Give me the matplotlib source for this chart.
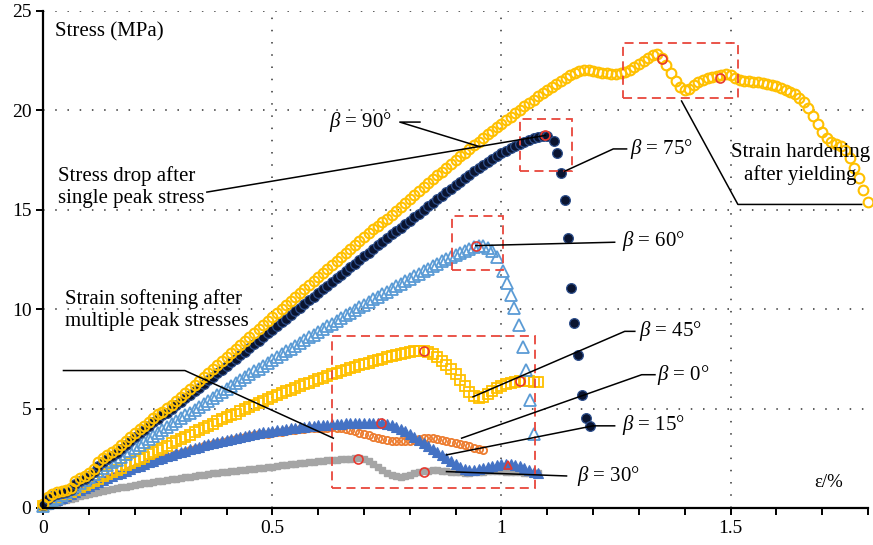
import matplotlib
matplotlib.use("Agg")
import matplotlib.pyplot as plt
from matplotlib.patches import Rectangle

plt.rcParams["font.family"] = ["Liberation Serif", "DejaVu Serif"]
plt.rcParams["mathtext.fontset"] = "custom"
plt.rcParams["mathtext.it"] = "Liberation Serif:italic"
plt.rcParams["mathtext.rm"] = "Liberation Serif"

# strain grid (%) shared by the dense parts of every curve
strain = [
    0.00, 0.01, 0.02, 0.03, 0.04, 0.05, 0.06, 0.07, 0.08, 0.09,
    0.10, 0.11, 0.12, 0.13, 0.14, 0.15, 0.16, 0.17, 0.18, 0.19,
    0.20, 0.21, 0.22, 0.23, 0.24, 0.25, 0.26, 0.27, 0.28, 0.29,
    0.30, 0.31, 0.32, 0.33, 0.34, 0.35, 0.36, 0.37, 0.38, 0.39,
    0.40, 0.41, 0.42, 0.43, 0.44, 0.45, 0.46, 0.47, 0.48, 0.49,
    0.50, 0.51, 0.52, 0.53, 0.54, 0.55, 0.56, 0.57, 0.58, 0.59,
    0.60, 0.61, 0.62, 0.63, 0.64, 0.65, 0.66, 0.67, 0.68, 0.69,
    0.70, 0.71, 0.72, 0.73, 0.74, 0.75, 0.76, 0.77, 0.78, 0.79,
    0.80, 0.81, 0.82, 0.83, 0.84, 0.85, 0.86, 0.87, 0.88, 0.89,
    0.90, 0.91, 0.92, 0.93, 0.94, 0.95, 0.96, 0.97, 0.98, 0.99,
    1.00, 1.01, 1.02, 1.03, 1.04, 1.05, 1.06, 1.07, 1.08, 1.09,
    1.10, 1.11, 1.12, 1.13, 1.14, 1.15, 1.16, 1.17, 1.18, 1.19,
    1.20, 1.21, 1.22, 1.23, 1.24, 1.25, 1.26, 1.27, 1.28, 1.29,
    1.30, 1.31, 1.32, 1.33, 1.34, 1.35, 1.36, 1.37, 1.38, 1.39,
    1.40, 1.41, 1.42, 1.43, 1.44, 1.45, 1.46, 1.47, 1.48, 1.49,
    1.50, 1.51, 1.52, 1.53, 1.54, 1.55, 1.56, 1.57, 1.58, 1.59,
    1.60, 1.61, 1.62, 1.63, 1.64, 1.65, 1.66, 1.67, 1.68, 1.69,
    1.70, 1.71, 1.72, 1.73, 1.74, 1.75, 1.76, 1.77, 1.78, 1.79,
    1.80,
]

# beta = 90 deg (stress, MPa)
s90 = [
    0.2, 0.55, 0.7, 0.8, 0.85, 0.9, 1.0, 1.35, 1.5, 1.6,
    1.75, 1.95, 2.3, 2.5, 2.65, 2.8, 2.95, 3.15, 3.35, 3.55,
    3.75, 3.95, 4.1, 4.3, 4.5, 4.7, 4.85, 5.05, 5.2, 5.4,
    5.6, 5.8, 6.0, 6.2, 6.4, 6.6, 6.8, 7.0, 7.2, 7.4,
    7.6, 7.8, 8.0, 8.2, 8.4, 8.6, 8.8, 9.0, 9.2, 9.4,
    9.6, 9.8, 10.0, 10.2, 10.4, 10.6, 10.8, 11.0, 11.2, 11.4,
    11.6, 11.8, 12.0, 12.2, 12.4, 12.6, 12.8, 13.0, 13.2, 13.4,
    13.6, 13.8, 14.0, 14.2, 14.4, 14.55, 14.75, 14.95, 15.15, 15.35,
    15.55, 15.75, 15.95, 16.15, 16.35, 16.55, 16.75, 16.9, 17.1, 17.3,
    17.5, 17.7, 17.85, 18.05, 18.25, 18.4, 18.6, 18.8, 18.95, 19.15,
    19.3, 19.5, 19.65, 19.85, 20.0, 20.2, 20.35, 20.5, 20.7, 20.85,
    21.0, 21.15, 21.3, 21.45, 21.6, 21.75, 21.85, 21.95, 22.0, 22.0,
    21.95, 21.9, 21.85, 21.85, 21.8, 21.8, 21.85, 21.9, 22.0, 22.15,
    22.3, 22.45, 22.6, 22.75, 22.8, 22.6, 22.25, 21.85, 21.45, 21.15,
    21.0, 21.05, 21.25, 21.4, 21.5, 21.6, 21.65, 21.7, 21.75, 21.8,
    21.75, 21.6, 21.5, 21.45, 21.45, 21.4, 21.4, 21.35, 21.3, 21.25,
    21.2, 21.1, 21.0, 20.9, 20.8, 20.6, 20.4, 20.1, 19.7, 19.3,
    18.9, 18.6, 18.4, 18.3, 18.2, 18.0, 17.6, 17.1, 16.6, 16.0,
    15.4,
]

# beta = 75 deg: dense rise then sparse drop
s75 = [
    0.15, 0.45, 0.6, 0.7, 0.75, 0.8, 0.9, 1.2, 1.35, 1.45,
    1.6, 1.8, 2.1, 2.3, 2.45, 2.6, 2.75, 2.95, 3.15, 3.35,
    3.55, 3.75, 3.9, 4.1, 4.3, 4.45, 4.65, 4.8, 5.0, 5.2,
    5.35, 5.55, 5.7, 5.9, 6.05, 6.25, 6.45, 6.6, 6.8, 6.95,
    7.15, 7.35, 7.5, 7.7, 7.85, 8.05, 8.25, 8.4, 8.6, 8.8,
    8.95, 9.15, 9.35, 9.5, 9.7, 9.9, 10.05, 10.25, 10.45, 10.6,
    10.8, 11.0, 11.15, 11.35, 11.55, 11.7, 11.9, 12.1, 12.25, 12.45,
    12.65, 12.8, 13.0, 13.2, 13.35, 13.55, 13.75, 13.9, 14.1, 14.3,
    14.45, 14.65, 14.8, 15.0, 15.2, 15.35, 15.55, 15.7, 15.9, 16.05,
    16.25, 16.4, 16.6, 16.75, 16.95, 17.1, 17.25, 17.4, 17.55, 17.7,
    17.85, 17.95, 18.1, 18.2, 18.3, 18.4, 18.5, 18.6, 18.65, 18.7,
]
x75_drop = [1.100, 1.114, 1.122, 1.129, 1.138, 1.146, 1.151, 1.159, 1.166, 1.176, 1.184, 1.193]
s75_drop = [18.7, 18.45, 17.86, 16.82, 15.46, 13.56, 11.04, 9.3, 7.7, 5.69, 4.52, 4.1]

# beta = 60 deg
s60 = [
    0.1, 0.25, 0.4, 0.5, 0.65, 0.8, 0.95, 1.1, 1.25, 1.4,
    1.55, 1.7, 1.85, 2.0, 2.15, 2.3, 2.4, 2.55, 2.7, 2.85,
    3.0, 3.15, 3.3, 3.45, 3.6, 3.75, 3.9, 4.05, 4.2, 4.35,
    4.5, 4.65, 4.8, 4.95, 5.1, 5.25, 5.4, 5.55, 5.7, 5.85,
    6.0, 6.15, 6.3, 6.45, 6.6, 6.75, 6.9, 7.0, 7.15, 7.3,
    7.45, 7.6, 7.75, 7.9, 8.0, 8.15, 8.3, 8.45, 8.6, 8.7,
    8.85, 9.0, 9.15, 9.25, 9.4, 9.55, 9.7, 9.8, 9.95, 10.1,
    10.2, 10.35, 10.5, 10.6, 10.75, 10.85, 11.0, 11.15, 11.25, 11.4,
    11.5, 11.65, 11.75, 11.9, 12.0, 12.15, 12.25, 12.4, 12.5, 12.6,
    12.7, 12.8, 12.9, 13.0, 13.1, 13.15, 13.15, 13.05, 12.9, 12.6,
]
x60_drop = [1.003, 1.011, 1.020, 1.028, 1.038, 1.047, 1.054, 1.062, 1.070]
s60_drop = [11.9, 11.3, 10.7, 10.05, 9.2, 8.1, 6.95, 5.45, 3.72]

# beta = 45 deg
s45 = [
    0.1, 0.25, 0.35, 0.5, 0.6, 0.7, 0.8, 0.9, 1.05, 1.15,
    1.25, 1.35, 1.45, 1.6, 1.7, 1.8, 1.9, 2.0, 2.15, 2.25,
    2.35, 2.45, 2.55, 2.7, 2.8, 2.9, 3.0, 3.1, 3.25, 3.35,
    3.45, 3.55, 3.65, 3.8, 3.9, 4.0, 4.1, 4.2, 4.35, 4.45,
    4.55, 4.65, 4.75, 4.9, 5.0, 5.1, 5.2, 5.3, 5.4, 5.5,
    5.6, 5.7, 5.8, 5.9, 5.95, 6.05, 6.15, 6.25, 6.3, 6.4,
    6.5, 6.55, 6.65, 6.75, 6.8, 6.9, 6.95, 7.05, 7.1, 7.2,
    7.25, 7.3, 7.4, 7.45, 7.5, 7.6, 7.65, 7.7, 7.75, 7.8,
    7.85, 7.9, 7.9, 7.9, 7.85, 7.75, 7.6, 7.4, 7.2, 7.0,
    6.75, 6.45, 6.15, 5.85, 5.65, 5.55, 5.6, 5.75, 5.9, 6.05,
    6.15, 6.25, 6.3, 6.35, 6.4, 6.4, 6.4, 6.35, 6.35,
]

# beta = 15 deg
s15 = [
    0.1, 0.2, 0.3, 0.4, 0.5, 0.6, 0.7, 0.8, 0.9, 1.0,
    1.1, 1.2, 1.3, 1.4, 1.5, 1.6, 1.7, 1.75, 1.85, 1.95,
    2.05, 2.1, 2.2, 2.3, 2.35, 2.45, 2.5, 2.6, 2.65, 2.75,
    2.8, 2.85, 2.95, 3.0, 3.05, 3.15, 3.2, 3.25, 3.3, 3.35,
    3.4, 3.45, 3.5, 3.55, 3.6, 3.65, 3.7, 3.75, 3.8, 3.8,
    3.85, 3.9, 3.9, 3.95, 4.0, 4.0, 4.05, 4.05, 4.1, 4.1,
    4.15, 4.15, 4.15, 4.2, 4.2, 4.2, 4.25, 4.25, 4.25, 4.25,
    4.25, 4.25, 4.25, 4.25, 4.25, 4.2, 4.15, 4.05, 3.95, 3.85,
    3.7, 3.55, 3.4, 3.25, 3.1, 2.95, 2.8, 2.65, 2.5, 2.35,
    2.2, 2.05, 1.95, 1.9, 1.9, 1.95, 2.0, 2.05, 2.1, 2.15,
    2.2, 2.2, 2.2, 2.15, 2.1, 2.0, 1.9, 1.8, 1.75,
]

# beta = 0 deg
s0 = [
    0.05, 0.15, 0.25, 0.35, 0.45, 0.55, 0.65, 0.75, 0.85, 0.95,
    1.05, 1.15, 1.25, 1.35, 1.45, 1.55, 1.65, 1.7, 1.8, 1.9,
    2.0, 2.05, 2.15, 2.25, 2.3, 2.4, 2.45, 2.55, 2.6, 2.7,
    2.75, 2.8, 2.9, 2.95, 3.0, 3.1, 3.15, 3.2, 3.25, 3.3,
    3.35, 3.4, 3.45, 3.5, 3.55, 3.6, 3.65, 3.7, 3.72, 3.72,
    3.77, 3.8, 3.82, 3.85, 3.9, 3.9, 3.95, 3.95, 4.0, 4.0,
    4.03, 4.03, 4.03, 4.05, 4.03, 4.0, 3.95, 3.9, 3.85, 3.78,
    3.72, 3.65, 3.58, 3.52, 3.47, 3.42, 3.38, 3.35, 3.35, 3.35,
    3.38, 3.4, 3.45, 3.5, 3.5, 3.5, 3.45, 3.4, 3.35, 3.3,
    3.25, 3.2, 3.15, 3.1, 3.0, 2.95, 2.9,
]

# beta = 30 deg
s30 = [
    0.05, 0.12, 0.19, 0.26, 0.33, 0.4, 0.46, 0.52, 0.58, 0.64,
    0.7, 0.75, 0.8, 0.85, 0.9, 0.95, 1.0, 1.04, 1.08, 1.12,
    1.16, 1.2, 1.24, 1.28, 1.32, 1.35, 1.38, 1.42, 1.45, 1.48,
    1.52, 1.55, 1.58, 1.62, 1.65, 1.68, 1.71, 1.74, 1.77, 1.8,
    1.83, 1.85, 1.88, 1.9, 1.93, 1.95, 1.98, 2.0, 2.03, 2.05,
    2.08, 2.11, 2.14, 2.17, 2.2, 2.23, 2.25, 2.28, 2.3, 2.32,
    2.35, 2.37, 2.39, 2.41, 2.43, 2.45, 2.47, 2.48, 2.5, 2.5,
    2.45, 2.35, 2.2, 2.05, 1.9, 1.75, 1.65, 1.6, 1.58, 1.6,
    1.68, 1.75, 1.8, 1.85, 1.88, 1.9, 1.9, 1.88, 1.85, 1.83,
    1.8, 1.8, 1.78, 1.78, 1.8, 1.82, 1.83, 1.85, 1.85, 1.85,
    1.85, 1.83, 1.82, 1.8, 1.8, 1.78, 1.76, 1.75, 1.75,
]

# red circles marking the peaks
peak_x = [1.351, 1.476, 1.096, 0.944, 0.831, 1.040, 0.737, 0.687, 0.831]
peak_y = [22.56, 21.64, 18.73, 13.19, 7.87, 6.36, 4.26, 2.45, 1.80]
tri_x = [1.015]
tri_y = [2.16]

# dashed boxes: x0, x1, y0, y1
boxes = [
    (1.266, 1.517, 20.63, 23.36),
    (1.040, 1.153, 16.93, 19.57),
    (0.893, 1.004, 11.98, 14.67),
    (0.631, 1.073, 0.99, 8.63),
]

yellow = "#FFC000"
red = "#E8382E"

fig = plt.figure(figsize=(8.73, 5.45), dpi=100)
ax = fig.add_axes([0.0496, 0.0679, 0.9447, 0.9125])

ax.plot(strain[:len(s30)], s30, ls="none", marker="s", ms=4.5, mfc="#A5A5A5", mec="#A5A5A5", clip_on=False)
ax.plot(strain[:len(s0)], s0, ls="none", marker="o", ms=5.2, mfc="none", mec="#ED7D31", mew=1.3, clip_on=False)
ax.plot(strain[:len(s15)], s15, ls="none", marker="^", ms=7, mfc="#4472C4", mec="#4472C4", mew=0.8, clip_on=False)
ax.plot(strain[:len(s45)], s45, ls="none", marker="s", ms=7.2, mfc="none", mec=yellow, mew=1.3, clip_on=False)
ax.plot(strain[:len(s60)] + x60_drop, s60 + s60_drop, ls="none", marker="^", ms=8,
        mfc="none", mec="#5B9BD5", mew=1.3, clip_on=False)
ax.plot(strain[:len(s75)] + x75_drop, s75 + s75_drop, ls="none", marker="o", ms=7,
        mfc="#0A1430", mec="#2E4F8C", mew=0.9, clip_on=False)
ax.plot(strain[:len(s90)], s90, ls="none", marker="o", ms=7, mfc="none", mec=yellow, mew=1.5, clip_on=False)

ax.plot(peak_x, peak_y, ls="none", marker="o", ms=6.5, mfc="none", mec=red, mew=1.2, zorder=5)
ax.plot(tri_x, tri_y, ls="none", marker="^", ms=6, mfc="none", mec=red, mew=1.2, zorder=5)

for x0, x1, y0, y1 in boxes:
    ax.add_patch(Rectangle((x0, y0), x1 - x0, y1 - y0, fill=False, ec="#E8463C",
                           lw=1.3, ls=(0, (5, 3)), zorder=6))

# annotation lines
lk = dict(color="black", lw=1.1, zorder=7)
ax.plot([0.822, 0.778, 0.953], [19.40, 19.40, 18.16], **lk)
ax.plot([0.357, 1.096], [15.88, 18.73], **lk)
ax.plot([1.273, 1.244, 1.138], [18.05, 18.05, 16.93], **lk)
ax.plot([1.247, 0.944], [13.36, 13.19], **lk)
ax.plot([1.291, 1.269, 0.938], [8.88, 8.88, 5.59], **lk)
ax.plot([1.335, 1.306, 0.913], [6.70, 6.70, 3.51], **lk)
ax.plot([1.247, 1.200, 0.880], [4.13, 4.13, 2.67], **lk)
ax.plot([1.142, 0.880], [1.61, 1.83], **lk)
ax.plot([0.044, 0.309, 0.633], [6.91, 6.91, 3.51], **lk)
ax.plot([1.393, 1.516, 1.786], [20.46, 15.26, 15.26], **lk)

fs = 15
ax.text(0.761, 19.40, r"$\it{\beta}$ = 90°", fontsize=fs, ha="right", va="center")
ax.text(1.280, 18.05, r"$\it{\beta}$ = 75°", fontsize=fs, ha="left", va="center")
ax.text(1.262, 13.40, r"$\it{\beta}$ = 60°", fontsize=fs, ha="left", va="center")
ax.text(1.300, 8.88, r"$\it{\beta}$ = 45°", fontsize=fs, ha="left", va="center")
ax.text(1.339, 6.70, r"$\it{\beta}$ = 0°", fontsize=fs, ha="left", va="center")
ax.text(1.262, 4.15, r"$\it{\beta}$ = 15°", fontsize=fs, ha="left", va="center")
ax.text(1.165, 1.61, r"$\it{\beta}$ = 30°", fontsize=fs, ha="left", va="center")
ax.text(0.032, 16.14, "Stress drop after\nsingle peak stress", fontsize=fs, ha="left", va="center")
ax.text(0.047, 9.97, "Strain softening after\nmultiple peak stresses", fontsize=fs, ha="left", va="center")
ax.text(1.652, 17.31, "Strain hardening\nafter yielding", fontsize=fs, ha="center", va="center")
ax.text(0.026, 23.92, "Stress (MPa)", fontsize=fs, ha="left", va="center")
ax.text(1.715, 1.26, "ε/%", fontsize=13.5, ha="center", va="center")

ax.set_xlim(0, 1.8)
ax.set_ylim(0, 25)
ax.set_xticks([0, 0.5, 1, 1.5])
ax.set_xticklabels(["0", "0.5", "1", "1.5"])
ax.set_xticks([0.1 * i for i in range(19)], minor=True)
ax.set_yticks([0, 5, 10, 15, 20, 25])
ax.tick_params(which="both", direction="out", length=5, width=1.4, labelsize=14)
for s in ["top", "right"]:
    ax.spines[s].set_visible(False)
for s in ["left", "bottom"]:
    ax.spines[s].set_linewidth(1.6)
ax.grid(True, which="major", color="#333333", lw=1.1, ls=(0, (1, 7)))
ax.set_axisbelow(True)

fig.savefig("out.png", dpi=100)
